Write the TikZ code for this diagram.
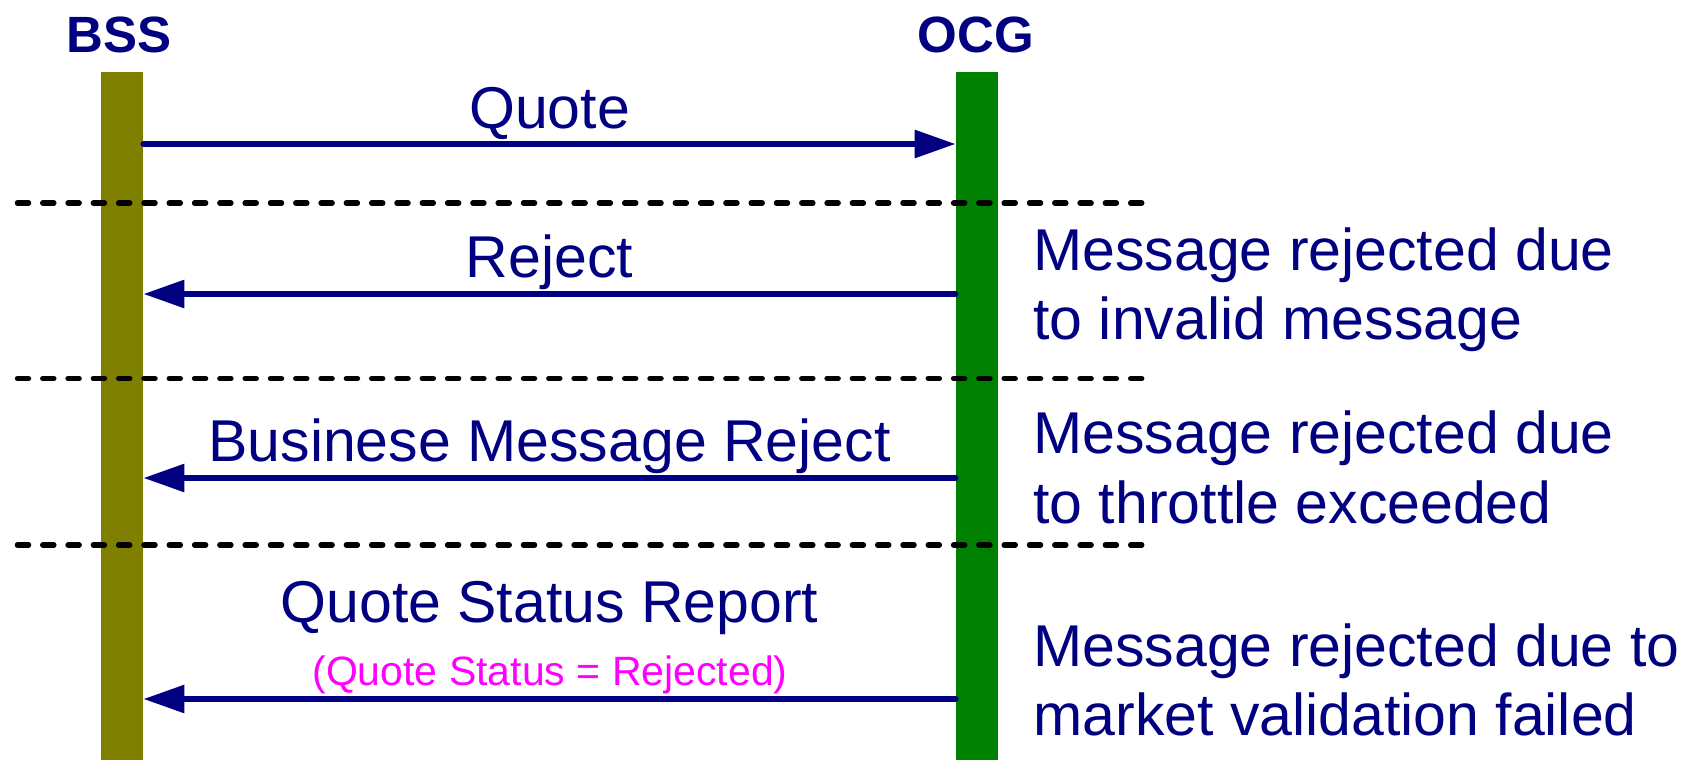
\documentclass[tikz,border=0pt]{standalone}
\usepackage{fontspec}
\setmainfont{Liberation Sans}
\usetikzlibrary{arrows.meta}
\definecolor{navy}{HTML}{000080}
\definecolor{olivebar}{HTML}{808000}
\definecolor{greenbar}{HTML}{008000}
\definecolor{magentatxt}{HTML}{FF00FF}
\tikzset{
  lifeline/.style={draw=none, inner sep=0pt, minimum width=21pt, minimum height=344pt, anchor=north},
  actor/.style={anchor=base, inner sep=0pt, text=navy, font=\fontsize{25.5pt}{30pt}\selectfont\bfseries},
  msglabel/.style={anchor=base, inner sep=0pt, text=navy, font=\fontsize{29.5pt}{34pt}\selectfont},
  note/.style={anchor=base west, inner sep=0pt, text=navy, font=\fontsize{29.5pt}{34pt}\selectfont},
  sublabel/.style={anchor=base, inner sep=0pt, text=magentatxt, font=\fontsize{20.5pt}{24pt}\selectfont},
  msg/.style={draw=navy, line width=3pt, line cap=round, -{Triangle[length=20.5pt,width=13.5pt]}},
  divider/.style={draw=black, line width=2.75pt, line cap=round, dash pattern=on 5.5pt off 7.15pt}
}
\begin{document}
\begin{tikzpicture}[x=0.5pt,y=-0.5pt]
\useasboundingbox (0,0) rectangle (1686,760);
% lifelines
\node[lifeline, fill=olivebar] (bss) at (122,72) {};
\node[lifeline, fill=greenbar] (ocg) at (977,72) {};
\node[actor] (bssname) at (119,52) {BSS};
\node[actor] (ocgname) at (976,52) {OCG};
% message anchor coordinates
\coordinate (y1) at (0,144);
\coordinate (y2) at (0,294);
\coordinate (y3) at (0,478);
\coordinate (y4) at (0,699);
% messages
\draw[msg] (bss.east |- y1) -- (ocg.west |- y1);
\draw[msg] (ocg.west |- y2) -- (bss.east |- y2);
\draw[msg] (ocg.west |- y3) -- (bss.east |- y3);
\draw[msg] (ocg.west |- y4) -- (bss.east |- y4);
% labels
\node[msglabel] (quote) at (549.5,128) {Quote};
\node[msglabel] (reject) at (549.5,277) {Reject};
\node[msglabel] (bmr) at (549.5,461) {Businese Message Reject};
\node[msglabel] (qsr) at (549.5,622) {Quote Status Report};
\node[sublabel] (qsrsub) at (550,685) {(Quote Status = Rejected)};
% dividers
\coordinate (d1a) at (17.5,203);   \coordinate (d1b) at (1145,203);
\coordinate (d2a) at (17.5,378.5); \coordinate (d2b) at (1145,378.5);
\coordinate (d3a) at (17.5,545);   \coordinate (d3b) at (1145,545);
\draw[divider] (d1a) -- (d1b);
\draw[divider] (d2a) -- (d2b);
\draw[divider] (d3a) -- (d3b);
% notes
\node[note] (n1a) at (1033,270) {Message rejected due};
\node[note] (n1b) at (1033,339) {to invalid message};
\node[note] (n2a) at (1033,453) {Message rejected due};
\node[note] (n2b) at (1033,523) {to throttle exceeded};
\node[note] (n3a) at (1033,666) {Message rejected due to};
\node[note] (n3b) at (1033,735) {market validation failed};
\end{tikzpicture}
\end{document}
